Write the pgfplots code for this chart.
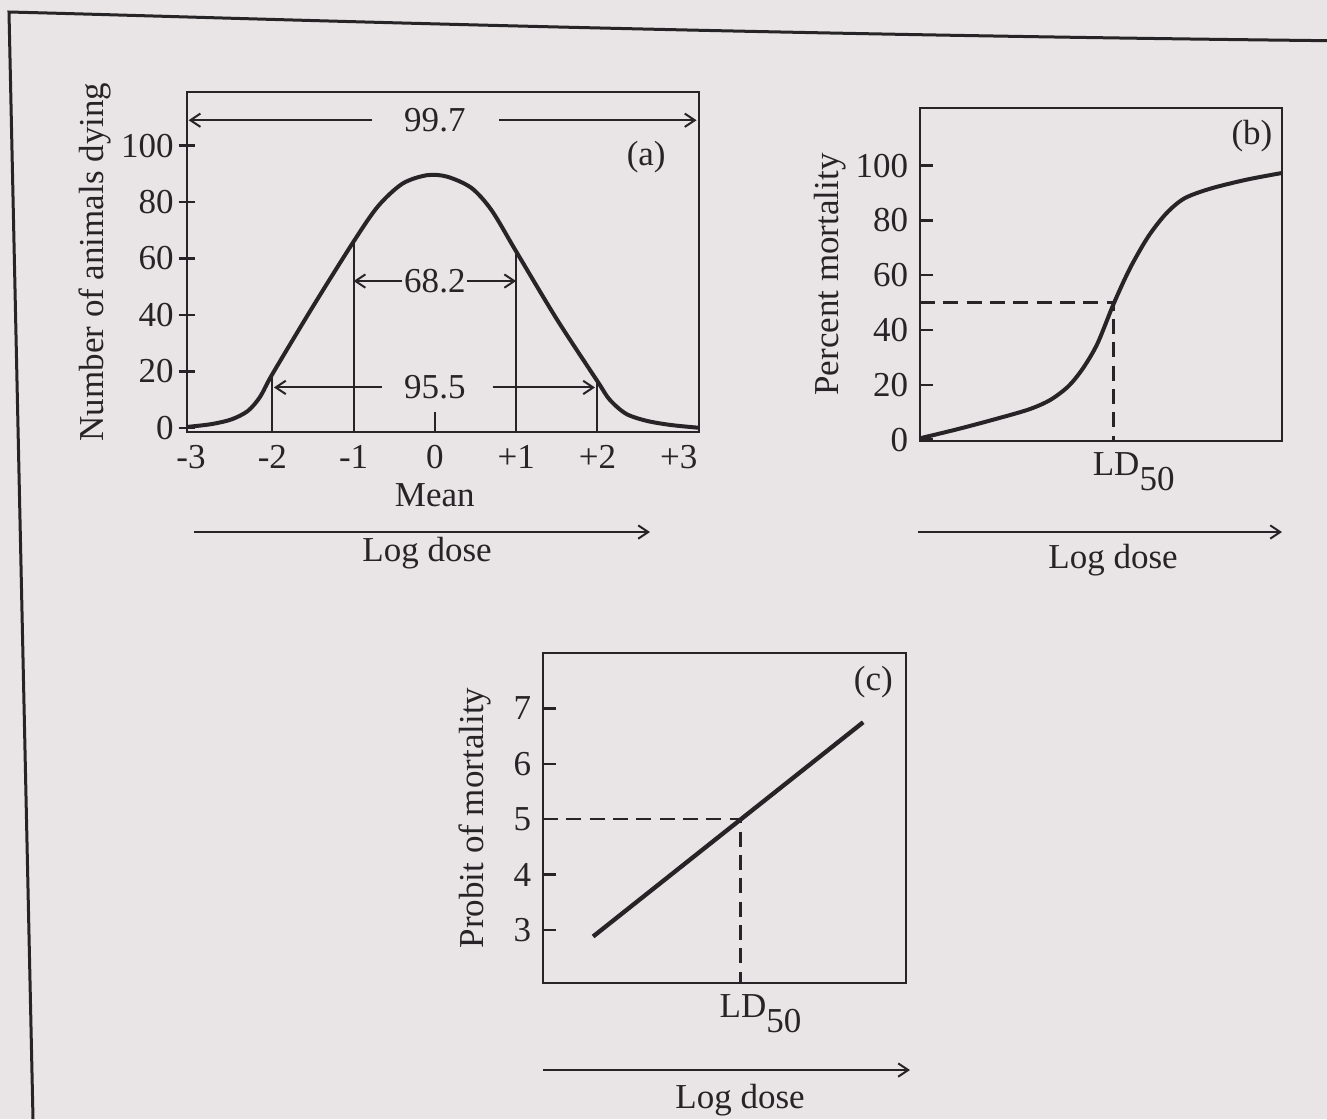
\documentclass[border=0pt]{standalone}
\usepackage{fontspec}
\setmainfont{Liberation Serif}
\usepackage{pgfplots}
\pgfplotsset{compat=1.18}
\usetikzlibrary{arrows.meta}

\definecolor{ink}{RGB}{38,36,38}
\definecolor{paper}{RGB}{233,229,231}

\pgfplotsset{
  panel/.style={
    scale only axis, clip=false,
    axis line style={ink, line width=0.8pt},
    tick style={ink, line width=0.7pt},
    major tick length=4pt,
    tick align=inside,
    ytick pos=left,
    major x tick style={draw=none},
    /pgf/number format/assume math mode=true,
    ticklabel style={ink},
    label style={ink},
  },
  curve/.style={ink, line width=1.2pt, no marks, smooth, tension=0.5},
  guide/.style={ink, line width=0.6pt, no marks},
  dashed guide/.style={ink, line width=0.8pt, no marks, dash pattern=on 4.5pt off 2.5pt},
  span/.style={ink, line width=0.6pt, no marks, -{Straight Barb[length=3pt,width=4pt]}},
}

\begin{document}
\begin{tikzpicture}[font=\fontsize{10.5}{12}\selectfont]
\useasboundingbox (0,0) rectangle (398.1pt,-335.7pt);
\fill[paper] (0,0) rectangle (398.1pt,-335.7pt);
% page frame of the photo
\draw[ink, line width=0.9pt] (398.1pt,-12.2pt) .. controls (200pt,-10pt) and (60pt,-5pt) .. (2.7pt,-3.6pt) -- (9.9pt,-335.7pt);

% (a) normal distribution of responses
\begin{axis}[panel,
  at={(56.1pt,-27.6pt)}, anchor=north west,
  width=153.6pt, height=102pt,
  xmin=-3.05, xmax=3.25, ymin=-1.5, ymax=119,
  xtick={-3,-2,-1,0,1,2,3},
  xticklabels={-3,-2,-1,0,+1,+2,+3},
  xticklabel style={yshift=2pt},
  yticklabel style={xshift=2pt},
  ytick={0,20,40,60,80,100},
  tick align=center, major tick length=5pt,
  xlabel={Mean},
  xlabel style={at={(ticklabel cs:0.484)}, yshift=2.5pt},
  ylabel={Number of animals dying}, ylabel shift=-4pt,
]
\addplot[curve] coordinates {
  (-3.05,0.3) (-2.75,1.3) (-2.5,3) (-2.3,6) (-2.15,11) (-2.0,19)
  (-1.5,43) (-1.0,66) (-0.7,78.5) (-0.4,86.5) (-0.1,89.5) (0.15,89)
  (0.45,85) (0.7,77) (1.0,62.5) (1.5,38.5) (2.0,16.5) (2.15,10)
  (2.35,5) (2.6,2.5) (2.9,1) (3.25,0)
};
\addplot[guide] coordinates {(-2,-1.5) (-2,19)};
\addplot[guide] coordinates {(-1,-1.5) (-1,66)};
\addplot[guide] coordinates {(1,-1.5) (1,62.5)};
\addplot[guide] coordinates {(2,-1.5) (2,16.5)};
\addplot[guide] coordinates {(0,-1.5) (0,5.5)};
% spans
\addplot[span] coordinates {(-0.77,109) (-3.03,109)};
\addplot[span] coordinates {(0.79,109) (3.22,109)};
\addplot[span] coordinates {(-0.40,52) (-1,52)};
\addplot[span] coordinates {(0.40,52) (1,52)};
\addplot[span] coordinates {(-0.65,14.3) (-1.98,14.3)};
\addplot[span] coordinates {(0.71,14.3) (1.97,14.3)};
\node[ink] at (axis cs:0,109) {99.7};
\node[ink] at (axis cs:0,52) {68.2};
\node[ink] at (axis cs:0,14.3) {95.5};
\node[ink] at (axis cs:2.6,95.8) {(a)};
\end{axis}

% (b) cumulative percent mortality
\begin{axis}[panel,
  at={(276pt,-32.4pt)}, anchor=north west,
  width=108.6pt, height=99.9pt,
  xmin=0, xmax=10, ymin=-0.5, ymax=121,
  xtick={5.35}, xticklabels={LD\raisebox{-4.5pt}{50}},
  xticklabel style={xshift=6pt},
  ytick={0,20,40,60,80,100},
  ylabel={Percent mortality}, ylabel shift=-4pt,
]
\addplot[curve] coordinates {
  (0,0.5) (1,3.7) (2,7.2) (3,11) (3.6,14.5) (4.1,19.5) (4.5,26)
  (4.9,35) (5.35,49.6) (5.8,62.5) (6.3,74) (6.8,82.5) (7.3,88)
  (8,91.5) (9,94.8) (10,97.3)
};
\addplot[dashed guide] coordinates {(0,50) (5.35,50) (5.35,-0.5)};
\node[ink] at (axis cs:9.17,110.6) {(b)};
\end{axis}

% (c) probit of mortality
\begin{axis}[panel,
  at={(162.9pt,-195.9pt)}, anchor=north west,
  width=108.9pt, height=99pt,
  xmin=0, xmax=10, ymin=2.04, ymax=8.0,
  xtick={5.44}, xticklabels={LD\raisebox{-4.5pt}{50}},
  xticklabel style={xshift=6pt},
  ytick={3,4,5,6,7},
  ylabel={Probit of mortality},
]
\addplot[ink, line width=1.3pt, no marks] coordinates {(1.38,2.88) (8.82,6.75)};
\addplot[dashed guide] coordinates {(0,5) (5.44,5) (5.44,2.04)};
\node[ink] at (axis cs:9.1,7.47) {(c)};
\end{axis}

% log dose arrows under each panel
\draw[ink, line width=0.6pt, -{Straight Barb[length=3pt,width=4pt]}] (58.2pt,-159.6pt) -- (195pt,-159.6pt);
\node[ink] at (128.1pt,-165.9pt) {Log dose};
\draw[ink, line width=0.6pt, -{Straight Barb[length=3pt,width=4pt]}] (275.4pt,-159.6pt) -- (384.6pt,-159.6pt);
\node[ink] at (333.9pt,-168pt) {Log dose};
\draw[ink, line width=0.6pt, -{Straight Barb[length=3pt,width=4pt]}] (162.9pt,-321pt) -- (273pt,-321pt);
\node[ink] at (222pt,-330pt) {Log dose};
\end{tikzpicture}
\end{document}
